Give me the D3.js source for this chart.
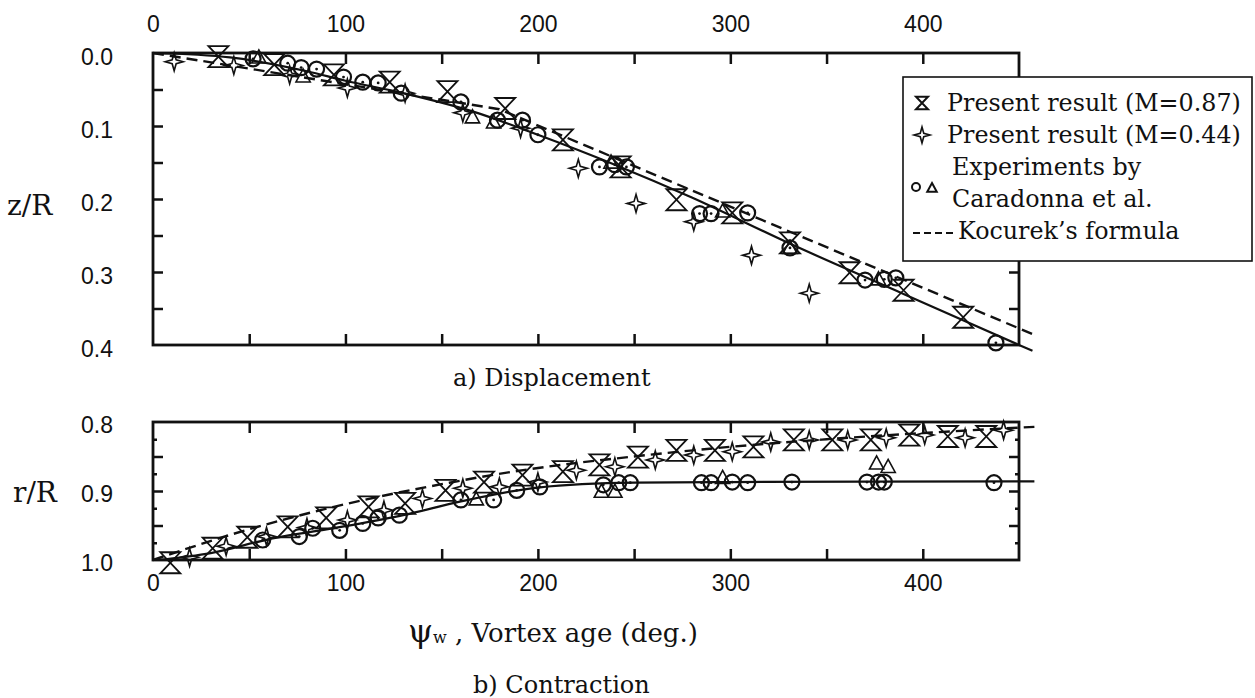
<!DOCTYPE html>
<html>
<head>
<meta charset="utf-8">
<script src="https://cdn.jsdelivr.net/npm/d3@7"></script>
<style>
  body { margin: 0; background: #fff; }
  svg { display: block; }
  .num { font-family: "Liberation Sans", Arial, sans-serif; fill: #111; }
  .ser { font-family: "DejaVu Serif", serif; fill: #111; }
  .axis path { display: none; }
  .axis line { stroke: #111; stroke-width: 2.5; }
</style>
</head>
<body>
<div id="chart"></div>
<script>
var w = 1255;
var h = 698;

// tick labels
var ageLabels = [0, 100, 200, 300, 400];
var zLabels = [0, 0.1, 0.2, 0.3, 0.4];
var rLabels = [0.8, 0.9, 1.0];

// a) displacement, [vortex age, z/R]
var dispM087 = [[34,0.005],[63,0.016],[94,0.030],[123,0.040],[153,0.053],[183,0.076],[213,0.119],
  [243,0.156],[272,0.201],[301,0.219],[331,0.260],[362,0.301],[390,0.325],[421,0.362]];
var dispM044 = [[11,0.012],[42,0.017],[71,0.030],[101,0.048],[131,0.055],[161,0.082],[191,0.103],
  [221,0.158],[251,0.206],[281,0.231],[311,0.277],[341,0.329]];
var dispExpCircle = [[52,0.008],[70,0.014],[77,0.020],[85,0.022],[99,0.033],[109,0.040],[117,0.041],
  [129,0.055],[160,0.067],[179,0.092],[192,0.092],[200,0.112],[232,0.156],[240,0.153],[246,0.156],
  [284,0.220],[290,0.220],[309,0.219],[331,0.267],[370,0.311],[380,0.310],[386,0.308],[438,0.397]];
var dispExpTri = [[55,0.006],[78,0.032],[166,0.088],[177,0.095],[238,0.150],[296,0.217],[331,0.267],[377,0.310]];
var dispFit = [[0,0.0],[40,0.006],[80,0.025],[100,0.038],[130,0.055],[166,0.080],[200,0.112],
  [240,0.153],[280,0.198],[330,0.260],[390,0.330],[450,0.400],[457,0.408]];
var dispKocurek = [[0,0.0],[180,0.077],[457,0.385]];

// b) contraction, [vortex age, r/R]
var contM087 = [[9,1.004],[31,0.983],[49,0.967],[70,0.952],[90,0.939],[112,0.923],[131,0.918],
  [152,0.899],[172,0.887],[192,0.877],[213,0.872],[232,0.862],[252,0.851],[272,0.841],[292,0.841],
  [312,0.836],[333,0.826],[353,0.826],[373,0.826],[393,0.819],[413,0.821],[433,0.821]];
var contM044 = [[19,0.996],[38,0.980],[59,0.966],[80,0.953],[101,0.942],[120,0.928],[140,0.911],
  [161,0.896],[180,0.894],[200,0.887],[220,0.870],[240,0.865],[261,0.855],[281,0.848],[301,0.843],
  [321,0.829],[341,0.826],[361,0.826],[381,0.823],[401,0.819],[422,0.823],[442,0.812]];
var contExpCircle = [[57,0.971],[76,0.966],[83,0.954],[97,0.957],[109,0.947],[117,0.939],[128,0.935],
  [160,0.913],[177,0.913],[189,0.899],[201,0.894],[234,0.891],[242,0.888],[248,0.888],[285,0.888],
  [290,0.888],[301,0.887],[309,0.888],[332,0.887],[371,0.887],[377,0.887],[380,0.887],[437,0.888]];
var contExpTri = [[168,0.912],[233,0.901],[240,0.901],[296,0.881],[376,0.860],[382,0.865]];
var contFit = [[3,1.0],[30,0.99],[60,0.97],[100,0.951],[130,0.935],[160,0.915],[200,0.895],
  [250,0.888],[300,0.887],[458,0.886]];
var contKocurek = [[0,1.0],[42,0.962],[94,0.923],[154,0.888],[187,0.872],[253,0.849],[300,0.836],
  [350,0.825],[400,0.816],[458,0.807]];

var svg = d3.select("#chart")
  .append("svg")
  .attr("width", w)
  .attr("height", h);

var x = d3.scaleLinear().domain([0, 450]).range([153, 1019]);
var zy = d3.scaleLinear().domain([0, 0.4]).range([53, 345]);
var ry = d3.scaleLinear().domain([0.8, 1.0]).range([422, 560]);

var ageTicks = d3.range(50, 450, 50);

// frame + inward ticks for one panel
function panel(y, yTicks, yMinor) {
  var x0 = x.range()[0], x1 = x.range()[1];
  var y0 = y.range()[0], y1 = y.range()[1];

  svg.append("g").attr("class", "axis").attr("transform", "translate(0," + y0 + ")")
    .call(d3.axisTop(x).tickValues(ageTicks).tickSizeInner(-11).tickSizeOuter(0).tickFormat(""));
  svg.append("g").attr("class", "axis").attr("transform", "translate(0," + y1 + ")")
    .call(d3.axisBottom(x).tickValues(ageTicks).tickSizeInner(-11).tickSizeOuter(0).tickFormat(""));
  svg.append("g").attr("class", "axis").attr("transform", "translate(" + x0 + ",0)")
    .call(d3.axisLeft(y).tickValues(yTicks).tickSizeInner(-10).tickSizeOuter(0).tickFormat(""));
  svg.append("g").attr("class", "axis").attr("transform", "translate(" + x1 + ",0)")
    .call(d3.axisRight(y).tickValues(yTicks).tickSizeInner(-10).tickSizeOuter(0).tickFormat(""));
  if (yMinor) {
    svg.append("g").attr("class", "axis").attr("transform", "translate(" + x0 + ",0)")
      .call(d3.axisLeft(y).tickValues(yMinor).tickSizeInner(-4).tickSizeOuter(0).tickFormat(""));
    svg.append("g").attr("class", "axis").attr("transform", "translate(" + x1 + ",0)")
      .call(d3.axisRight(y).tickValues(yMinor).tickSizeInner(-4).tickSizeOuter(0).tickFormat(""));
  }

  svg.append("rect")
    .attr("x", x0).attr("y", y0)
    .attr("width", x1 - x0).attr("height", y1 - y0)
    .attr("fill", "none").attr("stroke", "#111").attr("stroke-width", 2.8);
}

panel(zy, d3.range(0.05, 0.4, 0.05), null);
panel(ry, [0.85, 0.9, 0.95], [0.825, 0.875, 0.925, 0.975]);

// tick labels
function numStyle(g) {
  g.select(".domain").remove();
  g.selectAll("text")
    .attr("class", "num")
    .style("font-size", "23px");
}
svg.append("g").attr("transform", "translate(0,53)")
  .call(d3.axisTop(x).tickValues(ageLabels).tickSize(0).tickPadding(21))
  .call(numStyle);
svg.append("g").attr("transform", "translate(0,560)")
  .call(d3.axisBottom(x).tickValues(ageLabels).tickSize(0).tickPadding(15))
  .call(numStyle);
svg.append("g").attr("transform", "translate(153,4)")
  .call(d3.axisLeft(zy).tickValues(zLabels).tickSize(0).tickPadding(40).tickFormat(d3.format(".1f")))
  .call(numStyle);
svg.append("g").attr("transform", "translate(153,3)")
  .call(d3.axisLeft(ry).tickValues(rLabels).tickSize(0).tickPadding(40).tickFormat(d3.format(".1f")))
  .call(numStyle);

// lines
function drawLine(data, y, dashed, curve) {
  var line = d3.line()
    .x(function (d) { return x(d[0]); })
    .y(function (d) { return y(d[1]); })
    .curve(curve);
  svg.append("path")
    .datum(data)
    .attr("d", line)
    .attr("fill", "none")
    .attr("stroke", "#111")
    .attr("stroke-width", dashed ? 2.4 : 2.2)
    .attr("stroke-dasharray", dashed ? "11,6" : null);
}

drawLine(dispFit, zy, false, d3.curveMonotoneX);
drawLine(dispKocurek, zy, true, d3.curveLinear);
drawLine(contFit, ry, false, d3.curveMonotoneX);
drawLine(contKocurek, ry, true, d3.curveMonotoneX);

// marker shapes
function hourglass(s) {
  var hw = s, hh = s * 1.05;
  return "M" + (-hw) + "," + (-hh) + "H" + hw + "L" + (-hw) + "," + hh + "H" + hw + "Z";
}
function star(s) {
  var a = s * 0.22;
  return "M0," + (-s) + "L" + a + "," + (-a) + "L" + s + ",0L" + a + "," + a +
    "L0," + s + "L" + (-a) + "," + a + "L" + (-s) + ",0L" + (-a) + "," + (-a) + "Z";
}
function tri(s) {
  return "M0," + (-s) + "L" + (s * 0.95) + "," + (s * 0.75) + "L" + (-s * 0.95) + "," + (s * 0.75) + "Z";
}

function markers(data, y, type) {
  var g = svg.append("g");
  var sel = g.selectAll("g.m")
    .data(data)
    .enter()
    .append("g")
    .attr("class", "m")
    .attr("transform", function (d) { return "translate(" + x(d[0]) + "," + y(d[1]) + ")"; });
  if (type === "circle") {
    sel.append("circle").attr("r", 7.5).attr("fill", "none").attr("stroke", "#111").attr("stroke-width", 2.2);
    sel.append("circle").attr("r", 1.4).attr("fill", "#111");
  } else {
    sel.append("path")
      .attr("d", type === "hour" ? hourglass(10) : type === "star" ? star(9) : tri(7.5))
      .attr("fill", "none")
      .attr("stroke", "#111")
      .attr("stroke-width", type === "hour" ? 1.8 : 1.6)
      .attr("stroke-linejoin", "miter");
  }
}

markers(dispExpCircle, zy, "circle");
markers(dispExpTri, zy, "tri");
markers(dispM044, zy, "star");
markers(dispM087, zy, "hour");
markers(contExpCircle, ry, "circle");
markers(contExpTri, ry, "tri");
markers(contM044, ry, "star");
markers(contM087, ry, "hour");

// axis titles and captions
svg.append("text").attr("class", "ser").attr("x", 7).attr("y", 215)
  .style("font-size", "28px").text("z/R");
svg.append("text").attr("class", "ser").attr("x", 13).attr("y", 502)
  .style("font-size", "28px").text("r/R");
svg.append("text").attr("class", "ser").attr("x", 453).attr("y", 386)
  .style("font-size", "24px").text("a) Displacement");
svg.append("text").attr("class", "ser").attr("x", 473).attr("y", 693)
  .style("font-size", "24px").text("b) Contraction");

var xt = svg.append("text").attr("class", "ser").attr("x", 408).attr("y", 642)
  .style("font-size", "26px");
xt.append("tspan").style("font-size", "32px").text("ψ");
xt.append("tspan").style("font-size", "16px").attr("dy", 1).text("w");
xt.append("tspan").attr("dy", -1).text(" , Vortex age (deg.)");

// legend
var legend = svg.append("g").attr("class", "legend");
legend.append("rect")
  .attr("x", 903).attr("y", 77).attr("width", 349).attr("height", 184)
  .attr("fill", "#fff").attr("stroke", "#111").attr("stroke-width", 1.6);

var legendRows = [
  { text: "Present result (M=0.87)", y: 103, x: 947 },
  { text: "Present result (M=0.44)", y: 135, x: 947 },
  { text: "Experiments by", y: 167, x: 952 },
  { text: "Caradonna et al.", y: 199, x: 952 },
  { text: "Kocurek\u2019s formula", y: 231, x: 958 }
];
legend.selectAll("text")
  .data(legendRows)
  .enter()
  .append("text")
  .attr("class", "ser")
  .attr("x", function (d) { return d.x; })
  .attr("y", function (d) { return d.y + 8; })
  .style("font-size", "23.8px")
  .text(function (d) { return d.text; });

legend.append("path").attr("transform", "translate(922,103)").attr("d", hourglass(6))
  .attr("fill", "none").attr("stroke", "#111").attr("stroke-width", 2);
legend.append("path").attr("transform", "translate(922,135)").attr("d", star(8))
  .attr("fill", "none").attr("stroke", "#111").attr("stroke-width", 1.6);
legend.append("circle").attr("cx", 916).attr("cy", 187).attr("r", 4)
  .attr("fill", "none").attr("stroke", "#111").attr("stroke-width", 2);
legend.append("path").attr("transform", "translate(932,188)").attr("d", tri(5))
  .attr("fill", "none").attr("stroke", "#111").attr("stroke-width", 2);
legend.append("line").attr("x1", 913).attr("x2", 953).attr("y1", 233).attr("y2", 233)
  .attr("stroke", "#111").attr("stroke-width", 1.8).attr("stroke-dasharray", "7,4");
</script>
</body>
</html>
